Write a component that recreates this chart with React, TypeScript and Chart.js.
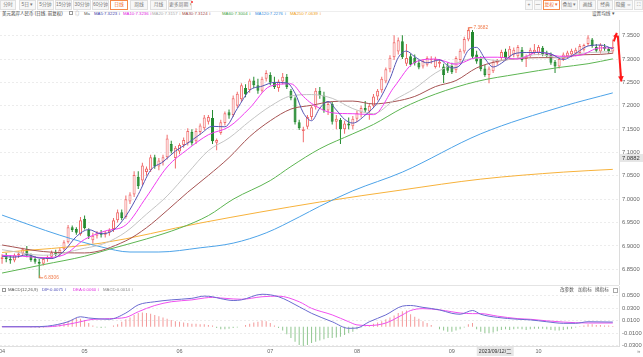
import React, { useEffect, useRef } from "react";
import { Chart, registerables } from "chart.js";

Chart.register(...registerables);

const FONT = '"Liberation Sans", "Noto Sans CJK SC", "Noto Sans", sans-serif';

// [open, high, low, close] per trading day, from 2023-04-03
const candles: [number, number, number, number][] = [
  [6.872, 6.882, 6.862, 6.876], [6.876, 6.885, 6.865, 6.872], [6.872, 6.88, 6.862, 6.869], [6.869, 6.884, 6.865, 6.88],
  [6.88, 6.888, 6.874, 6.884], [6.884, 6.896, 6.88, 6.893], [6.893, 6.9, 6.876, 6.88], [6.88, 6.884, 6.866, 6.87],
  [6.872, 6.878, 6.862, 6.866], [6.866, 6.872, 6.8306, 6.862], [6.862, 6.876, 6.858, 6.872], [6.872, 6.88, 6.866, 6.877],
  [6.877, 6.89, 6.872, 6.886], [6.886, 6.892, 6.878, 6.882], [6.882, 6.896, 6.878, 6.892], [6.893, 6.912, 6.89, 6.908],
  [6.908, 6.945, 6.905, 6.94], [6.94, 6.944, 6.93, 6.934], [6.936, 6.94, 6.924, 6.928], [6.925, 6.962, 6.922, 6.955],
  [6.958, 6.965, 6.935, 6.938], [6.934, 6.938, 6.915, 6.92], [6.912, 6.928, 6.905, 6.922], [6.922, 6.932, 6.916, 6.928],
  [6.928, 6.934, 6.918, 6.924], [6.924, 6.932, 6.918, 6.929], [6.929, 6.938, 6.922, 6.934], [6.936, 6.96, 6.93, 6.955],
  [6.955, 6.978, 6.95, 6.972], [6.972, 6.978, 6.955, 6.96], [6.962, 7.008, 6.958, 7.0], [6.995, 7.015, 6.99, 7.01],
  [7.01, 7.06, 7.005, 7.052], [7.048, 7.06, 7.022, 7.028], [7.04, 7.078, 7.03, 7.072], [7.058, 7.07, 7.05, 7.066],
  [7.062, 7.095, 7.058, 7.09], [7.09, 7.095, 7.065, 7.07], [7.07, 7.088, 7.062, 7.083], [7.08, 7.095, 7.072, 7.09],
  [7.09, 7.138, 7.085, 7.13], [7.118, 7.125, 7.098, 7.102], [7.088, 7.114, 7.066, 7.11], [7.102, 7.12, 7.096, 7.116],
  [7.116, 7.132, 7.11, 7.127], [7.12, 7.152, 7.115, 7.146], [7.144, 7.15, 7.115, 7.12], [7.124, 7.152, 7.118, 7.146],
  [7.144, 7.162, 7.138, 7.158], [7.152, 7.18, 7.148, 7.175], [7.166, 7.18, 7.16, 7.176], [7.174, 7.191, 7.118, 7.124],
  [7.121, 7.13, 7.105, 7.127], [7.142, 7.17, 7.138, 7.165], [7.163, 7.188, 7.158, 7.184], [7.186, 7.192, 7.172, 7.179],
  [7.18, 7.222, 7.176, 7.216], [7.2, 7.23, 7.195, 7.226], [7.214, 7.248, 7.208, 7.244], [7.238, 7.246, 7.218, 7.224],
  [7.234, 7.258, 7.228, 7.254], [7.254, 7.262, 7.238, 7.244], [7.244, 7.258, 7.226, 7.232], [7.232, 7.262, 7.228, 7.258],
  [7.258, 7.276, 7.252, 7.27], [7.266, 7.272, 7.244, 7.25], [7.25, 7.262, 7.236, 7.24], [7.238, 7.256, 7.23, 7.252],
  [7.252, 7.27, 7.246, 7.262], [7.262, 7.268, 7.236, 7.24], [7.232, 7.236, 7.212, 7.216], [7.216, 7.22, 7.16, 7.165],
  [7.165, 7.17, 7.148, 7.152], [7.146, 7.155, 7.122, 7.15], [7.155, 7.18, 7.15, 7.176], [7.176, 7.2, 7.17, 7.197],
  [7.197, 7.238, 7.192, 7.232], [7.232, 7.24, 7.215, 7.222], [7.222, 7.23, 7.185, 7.19], [7.19, 7.21, 7.18, 7.204],
  [7.204, 7.208, 7.16, 7.166], [7.166, 7.18, 7.15, 7.172], [7.17, 7.174, 7.118, 7.15], [7.15, 7.168, 7.14, 7.162],
  [7.162, 7.175, 7.15, 7.158], [7.156, 7.178, 7.15, 7.172], [7.172, 7.19, 7.165, 7.185], [7.185, 7.2, 7.175, 7.195],
  [7.195, 7.21, 7.185, 7.19], [7.188, 7.205, 7.17, 7.2], [7.2, 7.225, 7.195, 7.22], [7.22, 7.236, 7.212, 7.232],
  [7.233, 7.262, 7.228, 7.258], [7.252, 7.282, 7.248, 7.278], [7.278, 7.308, 7.272, 7.303], [7.304, 7.351, 7.298, 7.336],
  [7.316, 7.346, 7.31, 7.34], [7.338, 7.351, 7.3, 7.304], [7.29, 7.332, 7.285, 7.302], [7.306, 7.312, 7.284, 7.288],
  [7.303, 7.31, 7.286, 7.291], [7.292, 7.298, 7.278, 7.282], [7.284, 7.3, 7.28, 7.296], [7.288, 7.306, 7.284, 7.302],
  [7.298, 7.306, 7.29, 7.3], [7.283, 7.305, 7.28, 7.3], [7.29, 7.3, 7.282, 7.294], [7.284, 7.29, 7.249, 7.266],
  [7.286, 7.292, 7.27, 7.275], [7.285, 7.292, 7.268, 7.272], [7.276, 7.306, 7.27, 7.302], [7.298, 7.322, 7.292, 7.318],
  [7.316, 7.348, 7.312, 7.343], [7.342, 7.3682, 7.338, 7.362], [7.358, 7.362, 7.3, 7.305], [7.31, 7.318, 7.29, 7.295],
  [7.3, 7.306, 7.274, 7.278], [7.28, 7.288, 7.262, 7.266], [7.266, 7.284, 7.248, 7.28], [7.274, 7.298, 7.27, 7.294],
  [7.292, 7.3, 7.288, 7.298], [7.302, 7.32, 7.298, 7.315], [7.316, 7.322, 7.298, 7.302], [7.305, 7.328, 7.3, 7.322],
  [7.31, 7.325, 7.304, 7.32], [7.306, 7.33, 7.302, 7.326], [7.32, 7.326, 7.294, 7.298], [7.3, 7.31, 7.283, 7.306],
  [7.308, 7.324, 7.304, 7.32], [7.314, 7.332, 7.31, 7.32], [7.313, 7.33, 7.308, 7.326], [7.324, 7.328, 7.306, 7.31],
  [7.312, 7.318, 7.304, 7.307], [7.31, 7.314, 7.288, 7.292], [7.294, 7.298, 7.27, 7.284], [7.284, 7.304, 7.28, 7.3],
  [7.3, 7.314, 7.296, 7.31], [7.306, 7.318, 7.302, 7.314], [7.31, 7.322, 7.304, 7.318], [7.312, 7.324, 7.306, 7.32],
  [7.313, 7.332, 7.31, 7.328], [7.32, 7.333, 7.316, 7.33], [7.332, 7.351, 7.328, 7.346], [7.342, 7.345, 7.324, 7.328],
  [7.326, 7.332, 7.314, 7.318], [7.316, 7.334, 7.312, 7.33], [7.326, 7.332, 7.318, 7.322], [7.322, 7.326, 7.312, 7.316],
  [7.316, 7.342, 7.312, 7.326],
];

// moving averages: [day index, value]
const ma5Pts: [number, number][] = [
  [0, 6.878], [3, 6.876], [6, 6.881], [9, 6.874], [12, 6.873], [15, 6.889], [18, 6.92], [21, 6.935], [24, 6.926],
  [27, 6.934], [30, 6.964], [33, 7.01], [36, 7.062], [39, 7.08], [42, 7.103], [45, 7.12], [48, 7.139], [51, 7.156],
  [54, 7.155], [57, 7.194], [60, 7.233], [63, 7.242], [66, 7.25], [69, 7.249], [71, 7.227], [73, 7.185], [75, 7.168],
  [77, 7.195], [79, 7.209], [81, 7.191], [83, 7.171], [85, 7.163], [88, 7.18], [91, 7.207], [94, 7.258], [96, 7.303],
  [98, 7.317], [100, 7.305], [103, 7.292], [106, 7.298], [109, 7.281], [111, 7.287], [113, 7.319], [115, 7.325],
  [117, 7.301], [119, 7.283], [121, 7.291], [124, 7.311], [127, 7.314], [130, 7.314], [133, 7.311], [136, 7.299],
  [139, 7.312], [142, 7.328], [145, 7.33], [148, 7.3223],
];
const ma10Pts: [number, number][] = [
  [0, 6.88], [5, 6.878], [10, 6.875], [15, 6.881], [20, 6.914], [25, 6.932], [30, 6.945], [35, 7.005], [40, 7.069],
  [45, 7.107], [50, 7.138], [55, 7.155], [60, 7.195], [65, 7.242], [70, 7.247], [73, 7.22], [75, 7.205], [80, 7.185],
  [85, 7.183], [90, 7.181], [95, 7.24], [100, 7.293], [105, 7.3], [110, 7.289], [115, 7.303], [120, 7.304],
  [125, 7.3], [130, 7.315], [135, 7.306], [140, 7.308], [145, 7.324], [148, 7.3236],
];
const ma20Pts: [number, number][] = [
  [0, 6.892], [10, 6.88], [20, 6.895], [25, 6.906], [30, 6.93], [35, 6.968], [40, 7.007], [45, 7.056], [50, 7.104],
  [55, 7.131], [60, 7.167], [65, 7.199], [70, 7.221], [75, 7.224], [80, 7.216], [85, 7.194], [90, 7.183], [95, 7.212],
  [100, 7.237], [105, 7.27], [110, 7.291], [115, 7.302], [120, 7.297], [125, 7.302], [130, 7.31], [135, 7.303],
  [140, 7.312], [145, 7.315], [148, 7.3157],
];
const ma30Pts: [number, number][] = [
  [0, 6.902], [10, 6.888], [20, 6.885], [30, 6.911], [35, 6.939], [40, 6.976], [45, 7.015], [50, 7.051], [55, 7.089],
  [60, 7.134], [65, 7.168], [70, 7.193], [75, 7.201], [80, 7.209], [85, 7.21], [90, 7.204], [95, 7.209], [100, 7.22],
  [105, 7.241], [110, 7.254], [115, 7.281], [120, 7.295], [125, 7.301], [130, 7.303], [135, 7.303], [140, 7.309],
  [145, 7.31], [148, 7.3124],
];
const ma60Pts: [number, number][] = [
  [0, 6.842], [10, 6.86], [20, 6.878], [26, 6.893], [35, 6.915], [43, 6.938], [50, 6.965], [56, 7.0], [65, 7.04],
  [70, 7.07], [77, 7.108], [85, 7.14], [90, 7.16], [97, 7.195], [105, 7.225], [115, 7.252], [125, 7.268], [135, 7.282],
  [142, 7.29], [148, 7.3004],
];
const ma120Pts: [number, number][] = [
  [0, 6.966], [14, 6.923], [24, 6.898], [31, 6.887], [38, 6.887], [48, 6.896], [56, 6.906], [64, 6.928], [72, 6.962],
  [77, 6.985], [85, 7.018], [97, 7.058], [116, 7.14], [136, 7.199], [148, 7.2276],
];
const ma250Pts: [number, number][] = [
  [0, 6.886], [24, 6.906], [48, 6.949], [77, 6.994], [97, 7.02], [116, 7.043], [136, 7.058], [148, 7.0639],
];

// MACD panel
const difPts: [number, number][] = [
  [0, 0.0], [7, 0.0], [11, 0.001], [16, 0.008], [19, 0.016], [21, 0.014], [26, 0.012], [30, 0.022], [33, 0.035],
  [37, 0.04], [41, 0.043], [46, 0.0455], [49, 0.049], [51, 0.048], [53, 0.045], [56, 0.042], [58, 0.043], [63, 0.052],
  [67, 0.048], [72, 0.032], [75, 0.0215], [80, 0.008], [84, -0.0025], [86, -0.002], [89, 0.008], [93, 0.019],
  [97, 0.033], [99, 0.034], [102, 0.031], [106, 0.027], [109, 0.0215], [111, 0.02], [114, 0.026], [116, 0.02],
  [120, 0.015], [125, 0.012], [128, 0.011], [132, 0.008], [136, 0.0055], [139, 0.0055], [142, 0.008], [148, 0.0075],
];
const deaPts: [number, number][] = [
  [0, 0.0], [11, 0.0], [16, 0.004], [19, 0.008], [21, 0.011], [26, 0.013], [30, 0.015], [33, 0.024], [37, 0.034],
  [41, 0.04], [46, 0.043], [49, 0.046], [51, 0.047], [53, 0.046], [56, 0.0445], [58, 0.044], [63, 0.048], [67, 0.049],
  [72, 0.04], [75, 0.0295], [80, 0.019], [84, 0.008], [86, 0.003], [89, 0.002], [93, 0.006], [97, 0.019], [99, 0.026],
  [102, 0.029], [106, 0.027], [109, 0.024], [111, 0.022], [114, 0.021], [116, 0.021], [120, 0.017], [125, 0.013],
  [128, 0.012], [132, 0.0095], [136, 0.0075], [139, 0.0065], [142, 0.006], [148, 0.006],
];
const macdHist: number[] = [
  0.001, 0.001, 0.0, 0.0, 0.001, 0.001, 0.0, -0.001, -0.001, -0.002, -0.001, 0.0, 0.001, 0.002, 0.004,
  0.006, 0.009, 0.012, 0.014, 0.013, 0.011, 0.006, 0.002,
  -0.001, -0.002, -0.001, 0.0, 0.002, 0.004,
  0.008, 0.012, 0.015, 0.019, 0.022, 0.023, 0.022, 0.021, 0.019, 0.017, 0.015, 0.013, 0.011, 0.009, 0.008, 0.007,
  0.006, 0.005, 0.005, 0.004, 0.004, 0.003, 0.002,
  -0.002, -0.004, -0.004, -0.003, -0.002, -0.001, 0.0,
  0.003, 0.005, 0.007, 0.008, 0.01, 0.009, 0.006, 0.002, -0.002,
  -0.006, -0.012, -0.018, -0.024, -0.029, -0.031, -0.029, -0.026, -0.024, -0.022, -0.02, -0.018, -0.018, -0.017,
  -0.016, -0.013, -0.01, -0.008,
  -0.004, -0.001,
  0.001, 0.003, 0.005, 0.007, 0.009, 0.012, 0.015, 0.018, 0.022, 0.025, 0.026, 0.02, 0.016, 0.013, 0.009, 0.006,
  0.003, 0.0,
  -0.004, -0.006, -0.008, -0.008, -0.006, -0.004, -0.001,
  0.004, 0.006,
  -0.004, -0.008, -0.01, -0.01, -0.009, -0.007,
  -0.005, -0.004, -0.005, -0.004, -0.003, -0.004, -0.005, -0.004, -0.003, -0.003,
  -0.003, -0.004, -0.005, -0.006, -0.006, -0.005, -0.004, -0.003, -0.001,
  0.001, 0.002, 0.004, 0.004, 0.003, 0.003, 0.002, 0.002, 0.0014,
];

const priceTicks = [6.85, 6.9, 6.95, 7.0, 7.05, 7.1, 7.15, 7.2, 7.25, 7.3, 7.35];
const macdTicks = [-0.03, -0.01, 0.01, 0.03, 0.05];
const priceRange = [6.8164, 7.3836];
const macdRange = [-0.0308, 0.0652];
const cursorPrice = 7.0882;
const cursorDate = "2023/09/12";
const cursorWeekday = "二";
const arrowUp = [7.338, 7.356];
const arrowDown = [7.35, 7.252];

const UP = "#f06b6b";
const DOWN = "#238a2f";

function tradingDates(start: string, count: number): string[] {
  const out: string[] = [];
  const d = new Date(start + "T00:00:00Z");
  while (out.length < count) {
    const wd = d.getUTCDay();
    if (wd !== 0 && wd !== 6) {
      out.push(
        `${d.getUTCFullYear()}/${String(d.getUTCMonth() + 1).padStart(2, "0")}/${String(d.getUTCDate()).padStart(2, "0")}`
      );
    }
    d.setUTCDate(d.getUTCDate() + 1);
  }
  return out;
}

const dates = tradingDates("2023-04-03", candles.length);
const labels = [...dates, ""];
const monthTick = labels.map((d, i) => {
  if (!d) return "";
  const m = d.slice(5, 7);
  const prev = i > 0 ? labels[i - 1].slice(5, 7) : "";
  return m !== prev ? m : "";
});

const sparse = (pts: [number, number][]) => {
  const a: (number | null)[] = new Array(labels.length).fill(null);
  pts.forEach(([i, v]) => (a[i] = v));
  return a;
};

const maSeries = [
  { name: "MA5", pts: ma5Pts, color: "#5454b4" },
  { name: "MA10", pts: ma10Pts, color: "#f03cf0" },
  { name: "MA20", pts: ma20Pts, color: "#c4c4c4" },
  { name: "MA30", pts: ma30Pts, color: "#a65353" },
  { name: "MA60", pts: ma60Pts, color: "#5db552" },
  { name: "MA120", pts: ma120Pts, color: "#4da3e8" },
  { name: "MA250", pts: ma250Pts, color: "#f7b23b" },
];
const legendColors: Record<string, string> = {
  MA5: "#3c3ca8", MA10: "#e020e0", MA20: "#a8a8a8", MA30: "#a04848", MA60: "#3fa33f", MA120: "#3b8fe0", MA250: "#f0a020",
};
const legendLeft: Record<string, number> = { MA5: 94, MA10: 123, MA20: 152, MA30: 182, MA60: 222, MA120: 255, MA250: 290 };

const lastVal = (pts: [number, number][]) => pts[pts.length - 1][1];
const isUp = (c: number[]) => c[3] >= c[0];

function drawArrow(ctx: CanvasRenderingContext2D, x1: number, y1: number, x2: number, y2: number, head: number) {
  ctx.beginPath();
  ctx.moveTo(x1, y1);
  ctx.lineTo(x2, y2);
  ctx.stroke();
  const a = Math.atan2(y2 - y1, x2 - x1);
  ctx.beginPath();
  ctx.moveTo(x2, y2);
  ctx.lineTo(x2 - head * Math.cos(a - 0.5), y2 - head * Math.sin(a - 0.5));
  ctx.lineTo(x2 - head * Math.cos(a + 0.5), y2 - head * Math.sin(a + 0.5));
  ctx.closePath();
  ctx.fill();
}

const mainDecor = {
  id: "mainDecor",
  afterDraw(chart: any) {
    const { ctx, chartArea } = chart;
    const x = chart.scales.x;
    const y = chart.scales.y;
    let hi = 0;
    let lo = 0;
    candles.forEach((c, i) => {
      if (c[1] > candles[hi][1]) hi = i;
      if (c[2] < candles[lo][2]) lo = i;
    });
    ctx.save();
    ctx.lineWidth = 1;
    ctx.strokeStyle = "#f07a4a";
    ctx.fillStyle = "#f07a4a";
    ctx.font = `4.8px ${FONT}`;
    ctx.textBaseline = "middle";
    const hx = x.getPixelForValue(hi);
    const hy = y.getPixelForValue(candles[hi][1]);
    ctx.beginPath();
    ctx.moveTo(hx + 0.5, hy + 4);
    ctx.lineTo(hx + 0.5, hy + 0.5);
    ctx.lineTo(hx + 4, hy + 0.5);
    ctx.stroke();
    ctx.fillText(candles[hi][1].toFixed(4), hx + 5, hy + 0.5);
    const lx = x.getPixelForValue(lo);
    const ly = y.getPixelForValue(candles[lo][2]);
    ctx.beginPath();
    ctx.moveTo(lx + 0.5, ly - 3);
    ctx.lineTo(lx + 0.5, ly - 0.5);
    ctx.lineTo(lx + 4, ly - 0.5);
    ctx.stroke();
    ctx.fillText(candles[lo][2].toFixed(4), lx + 5, ly - 0.5);

    // cursor price badge on the axis
    const cy = y.getPixelForValue(cursorPrice);
    ctx.fillStyle = "#e6e6e6";
    ctx.fillRect(chartArea.right + 1, cy - 4, 30, 8);
    ctx.fillStyle = "#333";
    ctx.font = `5.8px ${FONT}`;
    ctx.fillText(cursorPrice.toFixed(4), chartArea.right + 3, cy);

    // red annotation arrows
    const xl = x.getPixelForValue(candles.length - 1);
    ctx.strokeStyle = "#ff1a1a";
    ctx.fillStyle = "#ff1a1a";
    ctx.lineWidth = 2;
    drawArrow(ctx, xl + 1, y.getPixelForValue(arrowUp[0]), xl + 4, y.getPixelForValue(arrowUp[1]), 5);
    drawArrow(ctx, xl + 5, y.getPixelForValue(arrowDown[0]), xl + 8.5, y.getPixelForValue(arrowDown[1]), 6);
    ctx.restore();
  },
};

const macdDecor = {
  id: "macdDecor",
  afterDraw(chart: any) {
    const { ctx, chartArea } = chart;
    const x = chart.scales.x;
    const idx = dates.indexOf(cursorDate);
    ctx.save();
    if (idx >= 0) {
      const cx = x.getPixelForValue(idx);
      ctx.fillStyle = "#e6e6e6";
      ctx.fillRect(cx - 4, chartArea.bottom + 1, 37, 9);
      ctx.fillStyle = "#333";
      ctx.font = `5.2px ${FONT}`;
      ctx.textBaseline = "middle";
      ctx.fillText(`${cursorDate}/${cursorWeekday}`, cx - 2, chartArea.bottom + 5.5);
    }
    ctx.fillStyle = "#888";
    ctx.font = `6px ${FONT}`;
    ctx.textBaseline = "middle";
    ctx.fillText("»", chart.width - 6, chartArea.bottom + 5.5);
    ctx.restore();
  },
};

export default function App() {
  const mainRef = useRef<HTMLCanvasElement>(null);
  const macdRef = useRef<HTMLCanvasElement>(null);

  useEffect(() => {
    document.body.style.margin = "0";
    Chart.defaults.font.family = FONT;

    const yAxisCommon = (range: number[], ticks: number[]) => ({
      position: "right",
      min: range[0],
      max: range[1],
      afterBuildTicks: (s: any) => {
        s.ticks = ticks.map((v) => ({ value: v }));
      },
      afterFit: (s: any) => {
        s.width = 24;
        s.paddingTop = 0;
        s.paddingBottom = 0;
      },
      ticks: {
        color: "#666",
        padding: 3,
        font: { size: 5.8 },
        callback: (v: any) => Number(v).toFixed(4),
      },
      grid: { color: "#ececec", drawTicks: false },
      border: { display: true, color: "#dcdcdc", dash: [2, 2] },
    });

    const main = new Chart(mainRef.current as HTMLCanvasElement, {
      type: "bar",
      data: {
        labels,
        datasets: [
          ...maSeries.map((m) => ({
            type: "line",
            label: m.name,
            data: sparse(m.pts),
            borderColor: m.color,
            borderWidth: 1,
            pointRadius: 0,
            spanGaps: true,
            cubicInterpolationMode: "monotone",
            fill: false,
            order: 0,
          })),
          {
            type: "bar",
            label: "body",
            data: candles.map((c) => [c[0], c[3]]),
            backgroundColor: candles.map((c) => (isUp(c) ? "#ffffff" : DOWN)),
            borderColor: candles.map((c) => (isUp(c) ? UP : DOWN)),
            borderWidth: 1,
            borderSkipped: false,
            barThickness: 3,
            grouped: false,
            inflateAmount: 0,
            order: 1,
          },
          {
            type: "bar",
            label: "wick",
            data: candles.map((c) => [c[2], c[1]]),
            backgroundColor: candles.map((c) => (isUp(c) ? UP : DOWN)),
            borderWidth: 0,
            barThickness: 1,
            grouped: false,
            inflateAmount: 0,
            order: 2,
          },
        ] as any,
      },
      options: {
        responsive: false,
        animation: false,
        events: [],
        layout: { padding: 0 },
        plugins: { legend: { display: false }, tooltip: { enabled: false } },
        scales: {
          x: { display: false, offset: true, grid: { display: false } },
          y: yAxisCommon(priceRange, priceTicks) as any,
        },
      } as any,
      plugins: [mainDecor],
    });

    const macd = new Chart(macdRef.current as HTMLCanvasElement, {
      type: "bar",
      data: {
        labels,
        datasets: [
          {
            type: "line",
            label: "DIF",
            data: sparse(difPts),
            borderColor: "#6a6ad0",
            borderWidth: 1,
            pointRadius: 0,
            spanGaps: true,
            cubicInterpolationMode: "monotone",
            order: 0,
          },
          {
            type: "line",
            label: "DEA",
            data: sparse(deaPts),
            borderColor: "#f050f0",
            borderWidth: 1,
            pointRadius: 0,
            spanGaps: true,
            cubicInterpolationMode: "monotone",
            order: 0,
          },
          {
            type: "bar",
            label: "MACD",
            data: macdHist,
            backgroundColor: macdHist.map((v) => (v >= 0 ? "rgba(238,110,110,0.7)" : "rgba(70,160,70,0.6)")),
            barThickness: 1,
            grouped: false,
            inflateAmount: 0,
            order: 1,
          },
        ] as any,
      },
      options: {
        responsive: false,
        animation: false,
        events: [],
        layout: { padding: 0 },
        plugins: { legend: { display: false }, tooltip: { enabled: false } },
        scales: {
          x: {
            offset: true,
            grid: { display: false, drawTicks: false },
            border: { display: true, color: "#e0e0e0" },
            afterFit: (s: any) => {
              s.height = 11;
              s.paddingLeft = 0;
              s.paddingRight = 0;
            },
            ticks: {
              autoSkip: false,
              maxRotation: 0,
              minRotation: 0,
              padding: 2,
              color: "#666",
              font: { size: 5.5 },
              callback: (_v: any, i: number) => monthTick[i],
            },
          },
          y: yAxisCommon(macdRange, macdTicks) as any,
        },
      } as any,
      plugins: [macdDecor],
    });

    return () => {
      main.destroy();
      macd.destroy();
    };
  }, []);

  const leftBtns: [string, number, number, boolean][] = [
    ["分时", 0, 16, false], ["5日 ▾", 19, 17, false], ["5分钟", 37, 17, false], ["15分钟", 55, 17, false],
    ["30分钟", 73, 18, false], ["60分钟", 92, 17, false], ["日线", 110, 18, true], ["周线", 130, 18, false],
    ["月线", 150, 17, false], ["更多周期 ▾", 168, 24, false],
  ];
  const rightBtns: [string, number, number, boolean][] = [
    ["+", 525, 8, false], ["—", 534, 8, false], ["复权 ▾", 543, 17, true], ["叠加 ▾", 561, 17, false],
    ["画线", 579, 17, false], ["经典", 597, 16, false], ["隐藏 ⇔", 614, 19, false], ["⛶", 634, 9, false],
  ];

  const btn = (b: [string, number, number, boolean], k: number) => (
    <div
      key={k}
      style={{
        position: "absolute",
        left: b[1],
        top: 0,
        width: b[2],
        height: 10,
        boxSizing: "border-box",
        border: `1px solid ${b[3] ? "#f5894a" : "#e0e0e0"}`,
        background: b[3] ? "#fff" : "#f7f7f7",
        color: b[3] ? "#f06a2a" : "#777",
        fontSize: 4.8,
        lineHeight: "8px",
        textAlign: "center",
        whiteSpace: "nowrap",
        overflow: "hidden",
      }}
    >
      {b[0]}
    </div>
  );

  const txt = (s: string, left: number, top: number, color: string, size = 4.3, k?: any) => (
    <span
      key={k}
      style={{ position: "absolute", left, top, color, fontSize: size, lineHeight: "6px", whiteSpace: "nowrap" }}
    >
      {s}
    </span>
  );

  return (
    <div
      style={{
        position: "fixed",
        left: 0,
        top: 0,
        width: 643,
        height: 357,
        background: "#fff",
        overflow: "hidden",
        fontFamily: FONT,
      }}
    >
      {leftBtns.map(btn)}
      <div style={{ position: "absolute", left: 191, top: 1, width: 2, height: 2, background: "#f33", borderRadius: 1 }} />
      {rightBtns.map((b, i) => btn(b, 100 + i))}
      <div style={{ position: "absolute", left: 0, top: 11, width: 643, height: 1, background: "#eeeeee" }} />

      {txt("美元离岸人民币 (日线, 前复权)", 2, 10.5, "#333", 4.5)}
      <span style={{ position: "absolute", left: 69, top: 11, width: 4, height: 4, border: "1px solid #999", boxSizing: "border-box" }} />
      {txt("◎", 75, 10.5, "#888")}
      {txt("Ma", 84, 10.5, "#555")}
      {maSeries.map((m) => (
        <span key={m.name}>
          {txt(`${m.name}:${lastVal(m.pts).toFixed(4)} ↕`, legendLeft[m.name], 10.5, legendColors[m.name])}
        </span>
      ))}
      {txt("设置均线 ▾", 592, 10.5, "#555", 4.6)}

      <canvas
        ref={mainRef}
        width={643}
        height={265}
        style={{ position: "absolute", left: 0, top: 20, width: 643, height: 265 }}
      />
      <div style={{ position: "absolute", left: 0, top: 285, width: 619, height: 1, background: "#e4e4e4" }} />
      <canvas
        ref={macdRef}
        width={643}
        height={71}
        style={{ position: "absolute", left: 0, top: 286, width: 643, height: 71 }}
      />
      <span style={{ position: "absolute", left: 2, top: 288, width: 4, height: 4, border: "1px solid #999", boxSizing: "border-box" }} />
      {txt("MACD(12,26,9)", 8, 287, "#555")}
      {txt(`DIF:${lastVal(difPts).toFixed(4)} ↕`, 42, 287, "#4c4cb8")}
      {txt(`DEA:${lastVal(deaPts).toFixed(4)} ↕`, 73, 287, "#e030e0")}
      {txt(`MACD:${macdHist[macdHist.length - 1].toFixed(4)} ↕`, 103, 287, "#888")}
      {txt("改参数", 560, 287, "#555", 4.6)}
      {txt("加指标", 578, 287, "#555", 4.6)}
      {txt("换指标", 595, 287, "#555", 4.6)}
      <span style={{ position: "absolute", left: 613, top: 288, width: 5, height: 5, border: "1px solid #aaa", boxSizing: "border-box" }} />
    </div>
  );
}
